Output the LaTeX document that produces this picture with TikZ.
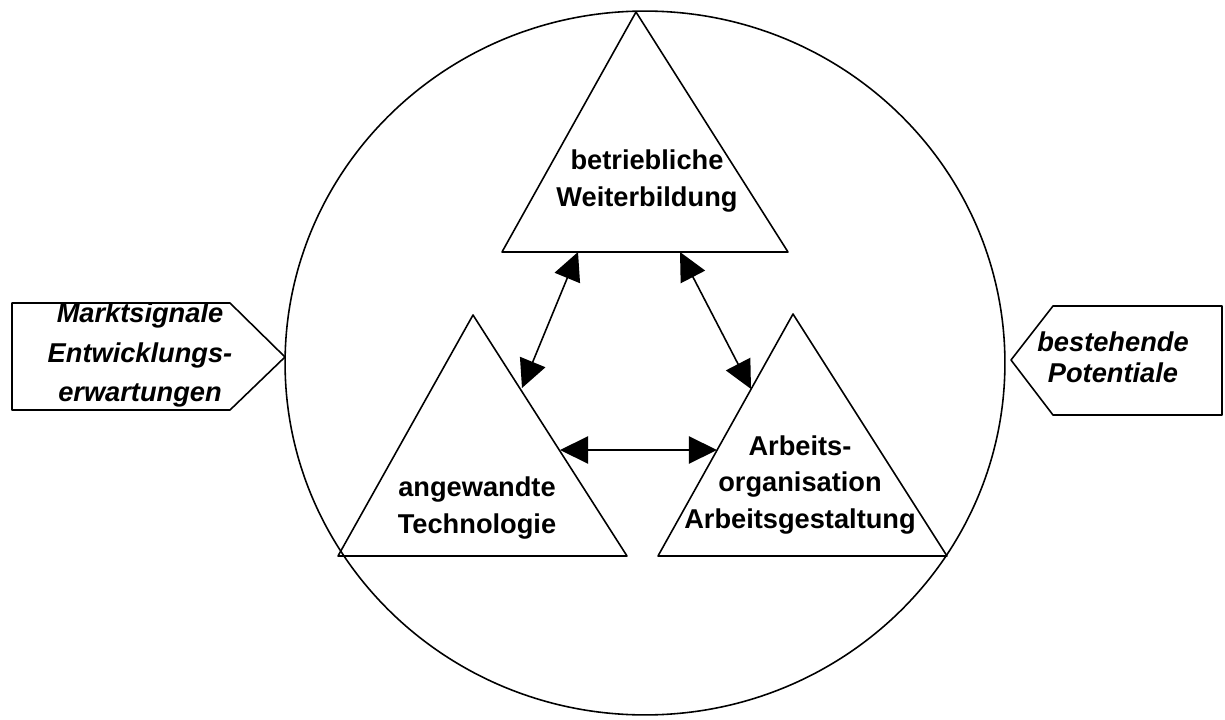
\documentclass[tikz,border=0pt]{standalone}
\usepackage{fontspec}
\setmainfont{Liberation Sans}
\usetikzlibrary{arrows.meta}
\tikzset{>={Triangle[length=16pt,width=15.5pt]}}

\begin{document}
\begin{tikzpicture}[line cap=round,line join=round,x=0.02cm,y=-0.02cm,line width=0.9pt]
		\useasboundingbox (0,0) rectangle (1225,720);
		\tikzset{lbl/.style={font=\bfseries\fontsize{15.5}{21}\selectfont,align=center,inner sep=0pt},
			sidelbl/.style={font=\bfseries\itshape\fontsize{15.5}{22.5}\selectfont,align=center,inner sep=0pt}}
		\draw (645,363) ellipse [x radius=7.2cm, y radius=7.04cm];
		% the three triangles
		\draw (636,12) -- (788,252) -- (502,252) -- cycle;
		\draw (473,315) -- (627,556) -- (338,556) -- cycle;
		\draw (793,314) -- (947,556) -- (658,556) -- cycle;
		\node[lbl] (bw) at (647,181) {betriebliche\\Weiterbildung};
		\node[lbl] (at) at (477,508) {angewandte\\Technologie};
		\node[lbl] (ao) at (800,485) {Arbeits-\\organisation\\Arbeitsgestaltung};
		% ends of the arrows on the edges
		\coordinate (bwl) at (578,252);
		\coordinate (bwr) at (680,252);
		\coordinate (atr) at (522,388);
		\coordinate (atm) at (560,450);
		\coordinate (aol) at (751,389);
		\coordinate (aom) at (717,450);
		\draw[<->] (bwl) -- (atr);
		\draw[<->] (bwr) -- (aol);
		\draw[<->] (atm) -- (aom);
		% outer influences
		\draw (12,303) -- (230,303) -- (285,357) -- (230,410) -- (12,410) -- cycle;
		\draw (1011,360) -- (1053,306) -- (1222,306) -- (1222,415) -- (1053,415) -- cycle;
		\node[sidelbl] (ms) at (140,355) {Marktsignale\\Entwicklungs-\\erwartungen};
		\node[sidelbl,font=\bfseries\itshape\fontsize{15.5}{17.5}\selectfont] (bp) at (1113,357) {bestehende\\Potentiale};
\end{tikzpicture}
\end{document}
